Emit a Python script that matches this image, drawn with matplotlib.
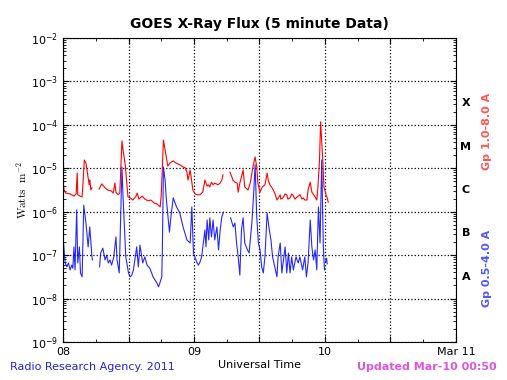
import numpy as np
import matplotlib
matplotlib.use('Agg')
import matplotlib.pyplot as plt
import matplotlib.dates as mdates
from datetime import datetime, timedelta

# GOES long channel (1.0-8.0 A): hours since Mar 08 00:00 UT, log10 flux (W m^-2); None = data gap
red_hours = [0.0, 0.2, 0.5, 1.3, 2.0, 2.4, 2.6, 2.7, 3.1, 3.5, 3.7, 3.9, 4.2, 4.6, 4.8, 4.9, 5.1, 5.3, 5.6,
             6.6, 7.1, 7.7, 8.2, 8.8, 9.2, 9.5, 9.7, 10.1, 10.4, 10.8, 11.0, 11.4, 11.7, 11.9, 12.3, 12.8,
             13.4, 13.6, 13.9, 14.5, 15.0, 15.6, 16.1, 16.7, 17.2, 17.8, 18.0, 18.4, 18.7, 19.1, 19.2, 19.6,
             20.2, 20.7, 21.4, 22.0, 22.4, 22.7, 22.9, 23.3, 23.5, 23.8, 24.2, 24.6, 25.1, 25.6, 26.0, 26.4,
             26.6, 26.9, 27.2, 27.5, 27.8, 28.4, 28.8, 29.1, 29.3, 29.9,
             30.6, 31.0, 31.1, 31.5, 31.9, 32.1, 32.4, 33.0, 33.3, 33.9, 34.3, 34.6, 34.8, 35.2, 35.5, 35.7,
             36.1, 36.5, 37.0, 37.4, 37.6, 37.9, 38.3, 38.8, 39.2, 39.8, 39.9, 40.3, 40.7, 41.0, 41.2, 41.6,
             41.9, 42.1, 42.5, 42.9, 43.4, 43.8, 44.0, 44.3, 44.7, 44.9, 45.3, 45.6, 46.2, 46.5, 46.7, 47.0,
             47.2, 47.4, 47.6, 47.8, 48.2, 48.4, 48.6]
red_logflux = [-5.27, -5.50, -5.57, -5.59, -5.64, -5.59, -5.11, -5.61, -5.64, -5.66, -5.27, -4.81, -4.88,
               -5.22, -5.38, -5.27, -5.50, -5.45, None,
               -5.48, -5.36, -5.45, -5.50, -5.52, -5.57, -5.34, -5.55, -5.61, -5.57, -4.37, -4.58, -4.92,
               -5.38, -5.66, -5.68, -5.73, -5.64, -5.57, -5.71, -5.64, -5.71, -5.75, -5.73, -5.80, -5.82,
               -5.89, -5.61, -4.35, -4.58, -4.88, -4.95, -4.88, -4.83, -4.88, -4.92, -4.97, -4.99, -5.09,
               -5.27, -5.04, -5.22, -5.50, -5.59, -5.61, -5.61, -5.55, -5.27, -5.41, -5.38, -5.43, -5.32,
               -5.38, -5.34, -5.38, -5.34, -5.27, -5.15, None,
               -5.09, -5.22, -5.27, -5.32, -5.34, -5.55, -5.34, -5.04, -5.43, -5.50, -5.34, -5.11, -4.97,
               -4.74, -4.97, -5.34, -5.55, -5.43, -5.38, -5.11, -5.27, -5.38, -5.45, -5.57, -5.73, -5.61,
               -5.71, -5.68, -5.59, -5.61, -5.71, -5.68, -5.59, -5.61, -5.71, -5.66, -5.61, -5.71, -5.68,
               -5.73, -5.73, -5.50, -5.32, -5.55, -5.66, -5.73, -5.45, -4.81, -3.93, -4.35, -4.81, -5.43,
               -5.61, -5.68, -5.78]

# GOES short channel (0.5-4.0 A)
blue_hours = [0.0, 0.2, 0.4, 0.7, 1.0, 1.3, 1.6, 1.8, 2.0, 2.2, 2.5, 2.7, 3.0, 3.2, 3.5, 3.8, 4.2, 4.6, 4.9,
              5.3, 5.4, 5.6,
              6.7, 6.9, 7.3, 7.7, 8.0, 8.3, 8.6, 8.9, 9.3, 9.7, 9.9, 10.3, 10.5, 10.8, 11.0, 11.5, 12.0,
              12.3, 12.6, 12.9, 13.5, 13.8, 14.1, 14.6, 15.0, 15.4, 15.9, 16.5, 17.2, 17.5, 17.8, 18.1,
              18.2, 18.4, 18.7, 18.9, 19.5, 19.8, 20.2, 20.8, 21.4, 22.0, 22.7, 23.3, 23.6, 23.9, 24.5,
              24.8, 25.1, 25.4, 25.7, 26.0, 26.2, 26.4, 26.7, 26.9, 27.2, 27.5, 27.8, 28.2, 28.5, 28.8,
              29.1, 29.4, 29.9,
              30.7, 31.2, 31.5, 31.8, 32.1, 32.4, 32.7, 33.0, 33.3, 33.8, 34.1, 34.6, 34.9, 35.2, 35.5,
              35.8, 36.1, 36.4, 36.7, 37.0, 37.4, 37.8, 38.1, 38.4, 38.8, 39.2, 39.4, 39.8, 40.1, 40.4,
              40.7, 41.0, 41.3, 41.6, 41.9, 42.2, 42.7, 43.1, 43.4, 43.9, 44.3, 44.6, 44.9, 45.3, 45.6,
              45.9, 46.2, 46.5, 46.8, 47.1, 47.4, 47.7, 47.9, 48.0,
              48.1, 48.3, 48.4]
blue_logflux = [-6.58, -6.88, -7.18, -7.27, -7.18, -7.34, -7.23, -7.30, -6.81, -7.34, -5.96, -7.18, -6.81,
                -7.41, -7.50, -5.85, -6.26, -6.81, -6.35, -7.04, -7.11, None,
                -7.27, -6.95, -6.84, -7.11, -7.00, -7.18, -7.11, -7.23, -7.04, -6.58, -7.11, -7.41, -6.42,
                -4.97, -5.66, -7.04, -7.41, -7.50, -7.46, -7.34, -6.81, -7.27, -6.77, -7.18, -7.04, -7.23,
                -7.30, -7.50, -7.64, -7.73, -7.62, -7.50, -6.88, -4.97, -5.27, -5.66, -6.47, -6.08, -5.68,
                -5.89, -6.03, -6.35, -6.65, -6.72, -5.89, -6.95, -7.16, -7.23, -7.16, -7.04, -6.72, -6.42,
                -6.81, -6.19, -6.65, -6.14, -6.58, -6.19, -6.65, -6.35, -6.88, -6.42, -6.12, -6.01, None,
                -6.14, -6.35, -6.26, -6.72, -7.04, -7.46, -6.42, -6.14, -6.72, -6.88, -6.95, -6.26, -5.66,
                -4.92, -6.12, -6.72, -6.88, -7.27, -7.41, -7.04, -6.03, -6.42, -6.65, -7.04, -7.27, -7.50,
                -7.04, -6.72, -7.41, -7.11, -6.81, -7.41, -6.95, -7.41, -7.04, -7.34, -7.04, -7.18, -7.04,
                -7.34, -7.04, -7.50, -7.18, -6.19, -6.81, -7.11, -6.88, -7.34, -5.89, -6.72, -4.81, -6.81,
                -7.34, None,
                -7.16, -7.07, -7.20]

class_letters = ['A', 'B', 'C', 'M', 'X']
start = datetime(2011, 3, 8)


def to_series(hours, logflux):
    t = [start + timedelta(hours=h) for h in hours]
    f = np.array([np.nan if v is None else 10.0 ** v for v in logflux])
    return t, f


t_red, f_red = to_series(red_hours, red_logflux)
t_blue, f_blue = to_series(blue_hours, blue_logflux)

plt.rcParams['mathtext.fontset'] = 'cm'
fig = plt.figure(figsize=(5.07, 3.80), dpi=100)
ax = fig.add_axes([0.1243, 0.1, 0.775, 0.8])

ax.plot(t_red, f_red, color='red', linewidth=0.8)
ax.plot(t_blue, f_blue, color='blue', linewidth=0.8, alpha=0.85)

ax.set_yscale('log')
ax.set_ylim(1e-9, 1e-2)
ax.set_xlim(start, start + timedelta(days=3))

major = [start + timedelta(hours=12 * i) for i in range(7)]
ax.set_xticks(major)
ax.set_xticklabels(['08', '', '09', '', '10', '', 'Mar 11'])
ax.xaxis.set_minor_locator(mdates.HourLocator(byhour=[6, 18]))
ax.grid(True, which='major', color='black', linestyle=':', linewidth=0.9)
ax.tick_params(which='both', direction='in', top=True, right=True, labelsize=8)
ax.tick_params(which='major', length=4)
ax.tick_params(which='minor', length=2)

ax.set_title('GOES X-Ray Flux (5 minute Data)', fontsize=10, fontweight='bold', pad=7)
ax.set_xlabel('Universal Time', fontsize=8, labelpad=2)
ax.set_ylabel(r'$\mathrm{Watts\ \ m^{-2}}$', fontsize=8, labelpad=1)

# flare class letters centred in each decade
for i, letter in enumerate(class_letters):
    ax.text(1.025, 10 ** (-7.5 + i), letter, transform=ax.get_yaxis_transform(),
            fontsize=8, fontweight='bold', va='center', ha='center')

fig.text(0.961, 0.655, 'Gp 1.0-8.0 A', color='#ff5555', fontsize=8, fontweight='bold',
         rotation=90, ha='center', va='center')
fig.text(0.961, 0.295, 'Gp 0.5-4.0 A', color='#5555ff', fontsize=8, fontweight='bold',
         rotation=90, ha='center', va='center')
fig.text(0.02, 0.033, 'Radio Research Agency. 2011', color='#2222dd', fontsize=8, va='center')
fig.text(0.98, 0.033, 'Updated Mar-10 00:50', color='#dd55dd', fontsize=8, fontweight='bold',
         ha='right', va='center')

plt.savefig('out.png', dpi=100)
